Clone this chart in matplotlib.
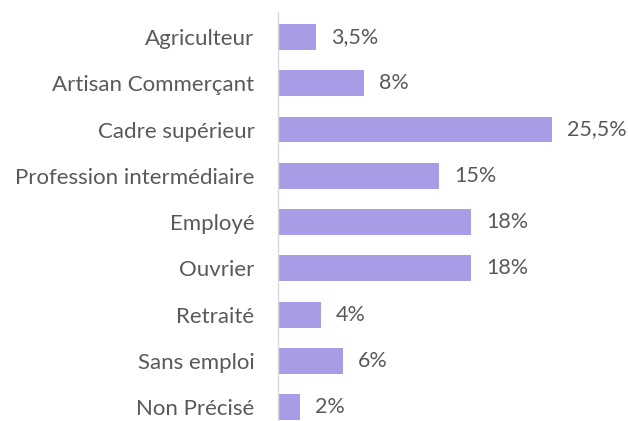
import matplotlib
matplotlib.use("Agg")
from matplotlib import pyplot as plt

categories = ["Agriculteur", "Artisan Commerçant", "Cadre supérieur",
              "Profession intermédiaire", "Employé", "Ouvrier",
              "Retraité", "Sans emploi", "Non Précisé"]
values = [3.5, 8, 25.5, 15, 18, 18, 4, 6, 2]
labels = ["3,5%", "8%", "25,5%", "15%", "18%", "18%", "4%", "6%", "2%"]

plt.rcParams['font.family'] = ['Lato', 'DejaVu Sans']
grey = '#595959'

fig = plt.figure(figsize=(6.28, 4.21), dpi=100)
ax = fig.add_axes([0.443, 0.0, 0.55, 0.9715])

ypos = list(range(len(categories)))
ax.barh(ypos, values, height=0.56, color='#A99CE6', edgecolor='none')

for y, v, lab in zip(ypos, values, labels):
    ax.text(v + 1.4, y, lab, va='center', ha='left', fontsize=15.5, color=grey)

ax.set_yticks(ypos)
ax.set_yticklabels(categories, fontsize=16, color=grey)
ax.tick_params(axis='y', length=0, pad=17)
ax.set_xticks([])
ax.set_xlim(0, 32.2)
ax.set_ylim(8.30, -0.54)

for s in ['top', 'right', 'bottom']:
    ax.spines[s].set_visible(False)
ax.spines['left'].set_color('#D9D9D9')
ax.spines['left'].set_linewidth(1)

fig.savefig('out.png', dpi=100)
